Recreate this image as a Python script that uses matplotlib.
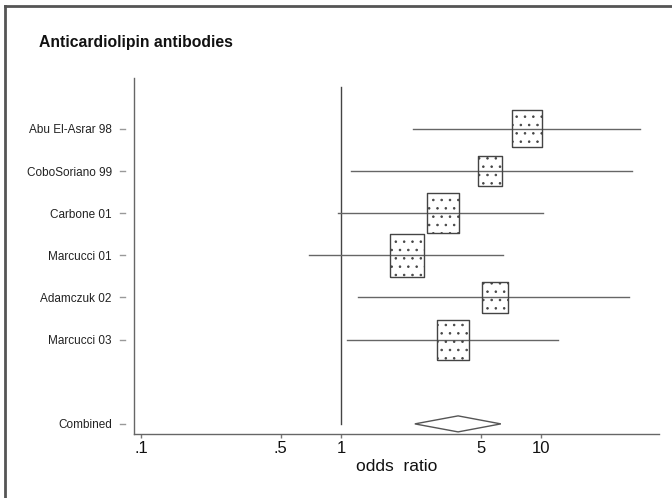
import matplotlib
matplotlib.use("Agg")
import matplotlib.pyplot as plt
from matplotlib.lines import Line2D
from matplotlib.patches import Polygon
import numpy as np

plt.rcParams['font.family'] = ['Liberation Sans', 'DejaVu Sans']
plt.rcParams['hatch.linewidth'] = 0.6

# ---- data ----
studies = ["Abu El-Asrar 98", "CoboSoriano 99", "Carbone 01", "Marcucci 01",
           "Adamczuk 02", "Marcucci 03"]
odds_ratio = [8.5, 5.56, 3.24, 2.14, 5.89, 3.63]
ci_lower = [2.29, 1.12, 0.97, 0.69, 1.22, 1.07]
ci_upper = [31.3, 28.5, 10.2, 6.46, 27.5, 12.2]
weights = [16.5, 11.1, 19.1, 21.9, 12.3, 19.1]
combined_label = "Combined"
combined_or = 3.85
combined_lower = 2.34
combined_upper = 6.3
xtick_values = [0.1, 0.5, 1, 5, 10]
xtick_labels = [".1", ".5", "1", "5", "10"]

W, H, DPI = 672, 498, 100
fig = plt.figure(figsize=(W / DPI, H / DPI), dpi=DPI)
fig.patch.set_facecolor("white")

# outer frame (top and left visible)
fig.add_artist(Line2D([5 / W, 1.0], [1 - 6 / H, 1 - 6 / H], transform=fig.transFigure,
                      color="#555555", lw=2.0))
fig.add_artist(Line2D([5 / W, 5 / W], [0, 1 - 6 / H], transform=fig.transFigure,
                      color="#555555", lw=2.0))

fig.text(39 / W, 1 - 42 / H, "Anticardiolipin antibodies", fontsize=11.3,
         fontweight="bold", va="center", ha="left", color="#111111")

ax_l, ax_r, ax_b, ax_t = 134, 659, 434, 78
ax = fig.add_axes([ax_l / W, 1 - ax_b / H, (ax_r - ax_l) / W, (ax_b - ax_t) / H])
ax.set_xscale("log")
ax.set_xlim(0.0923, 38.9)

n = len(studies)
ypos = list(range(1, n + 1))
y_comb = n + 2
ax.set_ylim(y_comb + 0.24, -0.21)

for s in ["top", "right"]:
    ax.spines[s].set_visible(False)
for s in ["left", "bottom"]:
    ax.spines[s].set_color("#666666")
    ax.spines[s].set_linewidth(1.0)

# reference line at OR = 1
ax.plot([1, 1], [0, y_comb], color="#444444", lw=1.0, zorder=1)

# confidence intervals
for y, lo, hi in zip(ypos, ci_lower, ci_upper):
    ax.plot([lo, hi], [y, y], color="#666666", lw=1.0, zorder=2)

# weighted boxes (rectangular marker, height:width ~ 1.25)
rect = [(-0.4, -0.5), (0.4, -0.5), (0.4, 0.5), (-0.4, 0.5), (-0.4, -0.5)]
k_px = 9.1
sizes = [(k_px * np.sqrt(w) * 72 / DPI) ** 2 for w in weights]
ax.scatter(odds_ratio, ypos, s=sizes, marker=rect, facecolors="none",
           edgecolors="#444444", linewidths=1.0, hatch="..", zorder=3)

# combined diamond
hh = 8 / 42.1
diamond = Polygon([(combined_lower, y_comb), (combined_or, y_comb - hh),
                   (combined_upper, y_comb), (combined_or, y_comb + hh)],
                  closed=True, fill=False, edgecolor="#555555", lw=1.0, zorder=3)
ax.add_patch(diamond)

# y ticks
ax.set_yticks(ypos + [y_comb])
ax.set_yticklabels(studies + [combined_label], fontsize=8.5, color="#222222")
ax.tick_params(axis="y", length=0, pad=16)
for y in ypos + [y_comb]:
    ax.plot([-0.0267, -0.0172], [y, y], transform=ax.get_yaxis_transform(),
            color="#999999", lw=1.0, clip_on=False)

# x ticks
ax.set_xticks(xtick_values)
ax.set_xticklabels(xtick_labels, fontsize=12, color="#111111")
ax.xaxis.set_minor_locator(matplotlib.ticker.NullLocator())
ax.tick_params(axis="x", direction="out", length=3, width=1.0, color="#777777", pad=2)
ax.set_xlabel("odds  ratio", fontsize=12.5, color="#111111", labelpad=2)

fig.savefig("out.png", dpi=DPI, facecolor="white")
